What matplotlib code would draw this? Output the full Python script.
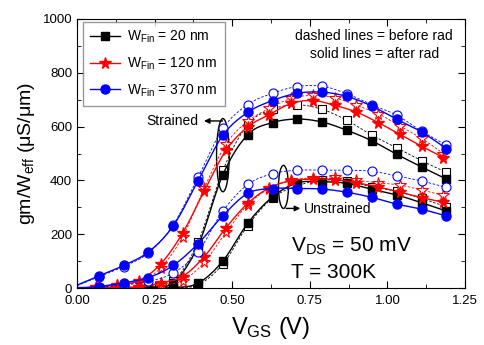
import numpy as np
import matplotlib
matplotlib.use("Agg")
import matplotlib.pyplot as plt
from matplotlib.patches import Ellipse
from matplotlib.ticker import MultipleLocator, FormatStrFormatter

plt.rcParams["font.family"] = ["Liberation Sans", "DejaVu Sans"]
plt.rcParams["mathtext.fontset"] = "custom"
plt.rcParams["mathtext.rm"] = "Liberation Sans"
plt.rcParams["mathtext.it"] = "Liberation Sans:italic"

# gate voltage points (V)
vgs_sq = [0.07, 0.15, 0.23, 0.31, 0.39, 0.47, 0.55, 0.63, 0.71, 0.79, 0.87, 0.95, 1.03, 1.11, 1.19]
vgs_star = [0.06, 0.13, 0.20, 0.27, 0.34, 0.41, 0.48, 0.55, 0.62, 0.69, 0.76, 0.83, 0.90, 0.97, 1.04, 1.11, 1.18]

# strained, after rad (solid) / before rad (dashed)
s20_after = [2, 2, 4, 20, 158, 422, 570, 615, 628, 617, 586, 547, 497, 450, 405]
s20_before = [2, 2, 4, 25, 172, 438, 608, 665, 681, 664, 623, 568, 521, 473, 430]
s120_after = [3, 12, 28, 90, 204, 361, 512, 599, 645, 686, 697, 679, 654, 615, 571, 527, 485]
s120_before = [3, 10, 22, 75, 190, 372, 535, 620, 668, 705, 716, 707, 679, 648, 602, 556, 500]
s370_after = [45, 84, 134, 231, 399, 568, 653, 697, 724, 728, 712, 676, 627, 580, 518]
s370_before = [42, 80, 130, 235, 412, 593, 682, 724, 749, 750, 722, 681, 642, 583, 531]

# unstrained
u20_after = [0, 1, 1, 2, 18, 101, 241, 339, 391, 395, 389, 367, 346, 317, 286]
u20_before = [0, 0, 1, 2, 12, 89, 232, 335, 380, 401, 397, 376, 360, 333, 302]
u120_after = [0, 2, 5, 19, 43, 117, 224, 315, 373, 399, 405, 403, 391, 376, 356, 336, 319]
u120_before = [0, 1, 3, 12, 27, 96, 207, 310, 370, 400, 410, 413, 401, 391, 383, 364, 345]
u370_after = [5, 19, 39, 84, 165, 269, 352, 370, 370, 368, 356, 337, 312, 293, 268]
u370_before = [3, 12, 25, 56, 135, 286, 385, 425, 438, 438, 438, 434, 417, 398, 374]


def smooth(x, y, n=12):
    # Catmull-Rom curve through the points, only for drawing the line
    x = np.asarray(x, float)
    y = np.asarray(y, float)
    xp = np.concatenate([[2 * x[0] - x[1]], x, [2 * x[-1] - x[-2]]])
    yp = np.concatenate([[2 * y[0] - y[1]], y, [2 * y[-1] - y[-2]]])
    t = np.linspace(0, 1, n, endpoint=False)
    # line runs on to the left axis edge along the first segment
    slope = (y[1] - y[0]) / (x[1] - x[0])
    xs, ys = [np.array([0.0])], [np.array([max(y[0] - slope * x[0], 0)])]
    for i in range(1, len(x)):
        for p, out in ((xp, xs), (yp, ys)):
            p0, p1, p2, p3 = p[i - 1], p[i], p[i + 1], p[i + 2]
            out.append(0.5 * (2 * p1 + (-p0 + p2) * t
                              + (2 * p0 - 5 * p1 + 4 * p2 - p3) * t ** 2
                              + (-p0 + 3 * p1 - 3 * p2 + p3) * t ** 3))
    xs.append([x[-1]])
    ys.append([y[-1]])
    return np.concatenate(xs), np.concatenate(ys)


fig = plt.figure(figsize=(4.84, 3.45), dpi=100)
ax = fig.add_axes([0.159, 0.165, 0.802, 0.78])

series = [
    ("black", "s", 5.5, vgs_sq, s20_after, s20_before, u20_after, u20_before, "20"),
    ("red", "*", 8.5, vgs_star, s120_after, s120_before, u120_after, u120_before, "120"),
    ("blue", "o", 6.5, vgs_sq, s370_after, s370_before, u370_after, u370_before, "370"),
]

for color, mk, ms, x, sa, sb, ua, ub, w in series:
    for y in (sb, ub):
        xs, ys = smooth(x, y)
        ax.plot(xs, ys, color=color, lw=0.6, ls=(0, (3, 2)))
        ax.plot(x, y, ls="none", marker=mk, ms=ms, mfc="white", mec=color, mew=0.8)
    for y in (sa, ua):
        xs, ys = smooth(x, y)
        ax.plot(xs, ys, color=color, lw=1.0)
        ax.plot(x, y, ls="none", marker=mk, ms=ms, color=color)
    ax.plot([], [], color=color, lw=1.0, marker=mk, ms=ms,
            label=r"W$_{\rm Fin}$ = " + w + " nm")

# annotations
ax.add_patch(Ellipse((0.470, 494), 0.041, 272, fill=False, color="black", lw=1))
ax.add_patch(Ellipse((0.665, 376), 0.032, 160, fill=False, color="black", lw=1))
ax.annotate("", xy=(0.40, 621), xytext=(0.478, 621),
            arrowprops=dict(arrowstyle="-|>", color="black", lw=1, mutation_scale=8))
ax.text(0.39, 621, "Strained", fontsize=10, ha="right", va="center")
ax.annotate("", xy=(0.728, 296), xytext=(0.665, 296),
            arrowprops=dict(arrowstyle="-|>", color="black", lw=1, mutation_scale=8))
ax.text(0.731, 292, "Unstrained", fontsize=10, ha="left", va="center")

ax.text(0.957, 938, "dashed lines = before rad", fontsize=10, ha="center", va="center")
ax.text(0.957, 870, "solid lines = after rad", fontsize=10, ha="center", va="center")
ax.text(0.69, 136, r"V$_{\rm DS}$ = 50 mV", fontsize=15, ha="left", va="baseline")
ax.text(0.69, 37, "T = 300K", fontsize=15, ha="left", va="baseline")

ax.set_xlim(0, 1.25)
ax.set_ylim(0, 1000)
ax.xaxis.set_major_locator(MultipleLocator(0.25))
ax.xaxis.set_minor_locator(MultipleLocator(0.125))
ax.yaxis.set_major_locator(MultipleLocator(200))
ax.yaxis.set_minor_locator(MultipleLocator(100))
ax.xaxis.set_major_formatter(FormatStrFormatter("%.2f"))
ax.tick_params(which="both", direction="in", top=True, right=True, labelsize=9.5)
ax.tick_params(which="major", length=5)
ax.tick_params(which="minor", length=3)
ax.tick_params(axis="x", pad=5)

ax.set_xlabel(r"V$_{\rm GS}$ (V)", fontsize=17, labelpad=6)
ax.set_ylabel(r"gm/W$_{\rm eff}$ ($\rm\mu$S/$\rm\mu$m)", fontsize=14, labelpad=4)

leg = ax.legend(loc="upper left", bbox_to_anchor=(0.015, 0.99), borderaxespad=0,
                fontsize=10, fancybox=False, edgecolor="gray", handlelength=2.2,
                labelspacing=0.75, borderpad=0.5, handletextpad=0.5)
leg.get_frame().set_linewidth(1)

fig.savefig("out.png", dpi=100)
